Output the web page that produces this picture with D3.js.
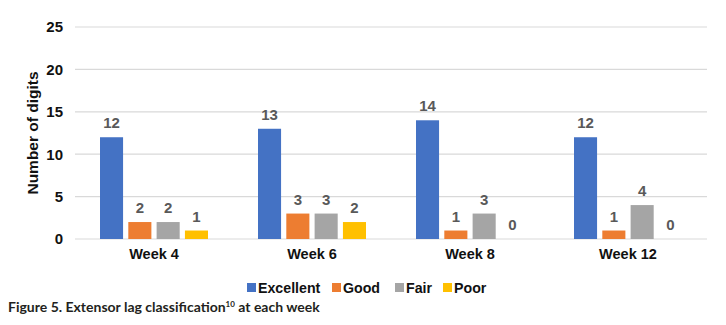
<!DOCTYPE html>
<html lang="en">
<head>
<meta charset="UTF-8">
<title>Extensor lag classification</title>
<style>
  body { margin: 0; background: #fff; }
  svg { display: block; }
</style>
</head>
<body>
<svg id="chart"></svg>
<script src="https://d3js.org/d3.v7.min.js"></script>
<script>
// data
const weeks = ['Week 4', 'Week 6', 'Week 8', 'Week 12'];
const seriesNames = ['Excellent', 'Good', 'Fair', 'Poor'];
const excellent = [12, 13, 14, 12];
const good = [2, 3, 1, 1];
const fair = [2, 3, 3, 4];
const poor = [1, 2, 0, 0];
const yTicks = [0, 5, 10, 15, 20, 25];
const colors = ['#4472C4', '#ED7D31', '#A5A5A5', '#FFC000'];

const values = [excellent, good, fair, poor];
const width = 726, height = 325;
const margin = { top: 27, left: 75, right: 19, bottom: 86 };
const font = '"Liberation Sans", Arial, sans-serif';

const svg = d3.select('#chart').attr('width', width).attr('height', height);

const x = d3.scaleBand().domain(weeks).range([margin.left, width - margin.right]);
const x1 = d3.scaleBand().domain(seriesNames).range([0, 108]).paddingInner(0.185);
const y = d3.scaleLinear().domain([0, 25]).range([height - margin.bottom, margin.top]);

// grid lines
svg.append('g')
  .selectAll('line')
  .data(yTicks)
  .join('line')
  .attr('x1', margin.left).attr('x2', width - margin.right)
  .attr('y1', d => y(d)).attr('y2', d => y(d))
  .attr('stroke', '#d9d9d9').attr('stroke-width', 1.2);

// y axis labels
const yAxis = d3.axisLeft(y).tickValues(yTicks).tickSize(0).tickPadding(0);
svg.append('g')
  .attr('transform', `translate(${margin.left - 12},0)`)
  .call(yAxis)
  .call(g => g.select('.domain').remove())
  .selectAll('text')
  .attr('font-family', font).attr('font-weight', 'bold')
  .attr('font-size', 15).attr('fill', '#111');

// x axis labels
const xAxis = d3.axisBottom(x).tickSize(0).tickPadding(0);
svg.append('g')
  .attr('transform', `translate(0,${y(0) + 10})`)
  .call(xAxis)
  .call(g => g.select('.domain').remove())
  .selectAll('text')
  .attr('font-family', font).attr('font-weight', 'bold')
  .attr('font-size', 14.5).attr('fill', '#111');

// y title
svg.append('text')
  .attr('transform', `translate(38,${y(12.5)}) rotate(-90)`)
  .attr('text-anchor', 'middle')
  .attr('font-family', font).attr('font-weight', 'bold')
  .attr('font-size', 15.5).attr('fill', '#111')
  .text('Number of digits');

// bars
const groups = svg.append('g')
  .selectAll('g')
  .data(weeks)
  .join('g')
  .attr('transform', w => `translate(${x(w) + (x.bandwidth() - 108) / 2},0)`);

groups.selectAll('rect')
  .data((w, i) => seriesNames.map((s, j) => ({ s, v: values[j][i], c: colors[j] })))
  .join('rect')
  .attr('x', d => x1(d.s))
  .attr('y', d => y(d.v))
  .attr('width', x1.bandwidth())
  .attr('height', d => y(0) - y(d.v))
  .attr('fill', d => d.c);

groups.selectAll('text')
  .data((w, i) => seriesNames.map((s, j) => ({ s, v: values[j][i] })))
  .join('text')
  .attr('x', d => x1(d.s) + x1.bandwidth() / 2)
  .attr('y', d => y(d.v) - 9)
  .attr('text-anchor', 'middle')
  .attr('font-family', font).attr('font-weight', 'bold')
  .attr('font-size', 15).attr('fill', '#595959')
  .text(d => d.v);

// legend
const legendX = [247, 332, 395, 443];
const legend = svg.append('g')
  .selectAll('g')
  .data(seriesNames)
  .join('g')
  .attr('transform', (d, i) => `translate(${legendX[i]},282)`);
legend.append('rect').attr('y', 1).attr('width', 9).attr('height', 9).attr('fill', (d, i) => colors[i]);
legend.append('text')
  .attr('x', 11).attr('y', 10.5)
  .attr('font-family', font).attr('font-weight', 'bold')
  .attr('font-size', 14.2).attr('fill', '#111')
  .text(d => d);

// caption
const cap = svg.append('text')
  .attr('x', 8).attr('y', 312)
  .attr('font-family', 'Lato, "Open Sans", sans-serif').attr('font-weight', 'bold')
  .attr('font-size', 14).attr('fill', '#231f20');
cap.append('tspan').text('Figure 5. Extensor lag classification');
cap.append('tspan').attr('dy', -5).attr('font-size', 8).text('10');
cap.append('tspan').attr('dy', 5).text(' at each week');
</script>
</body>
</html>
